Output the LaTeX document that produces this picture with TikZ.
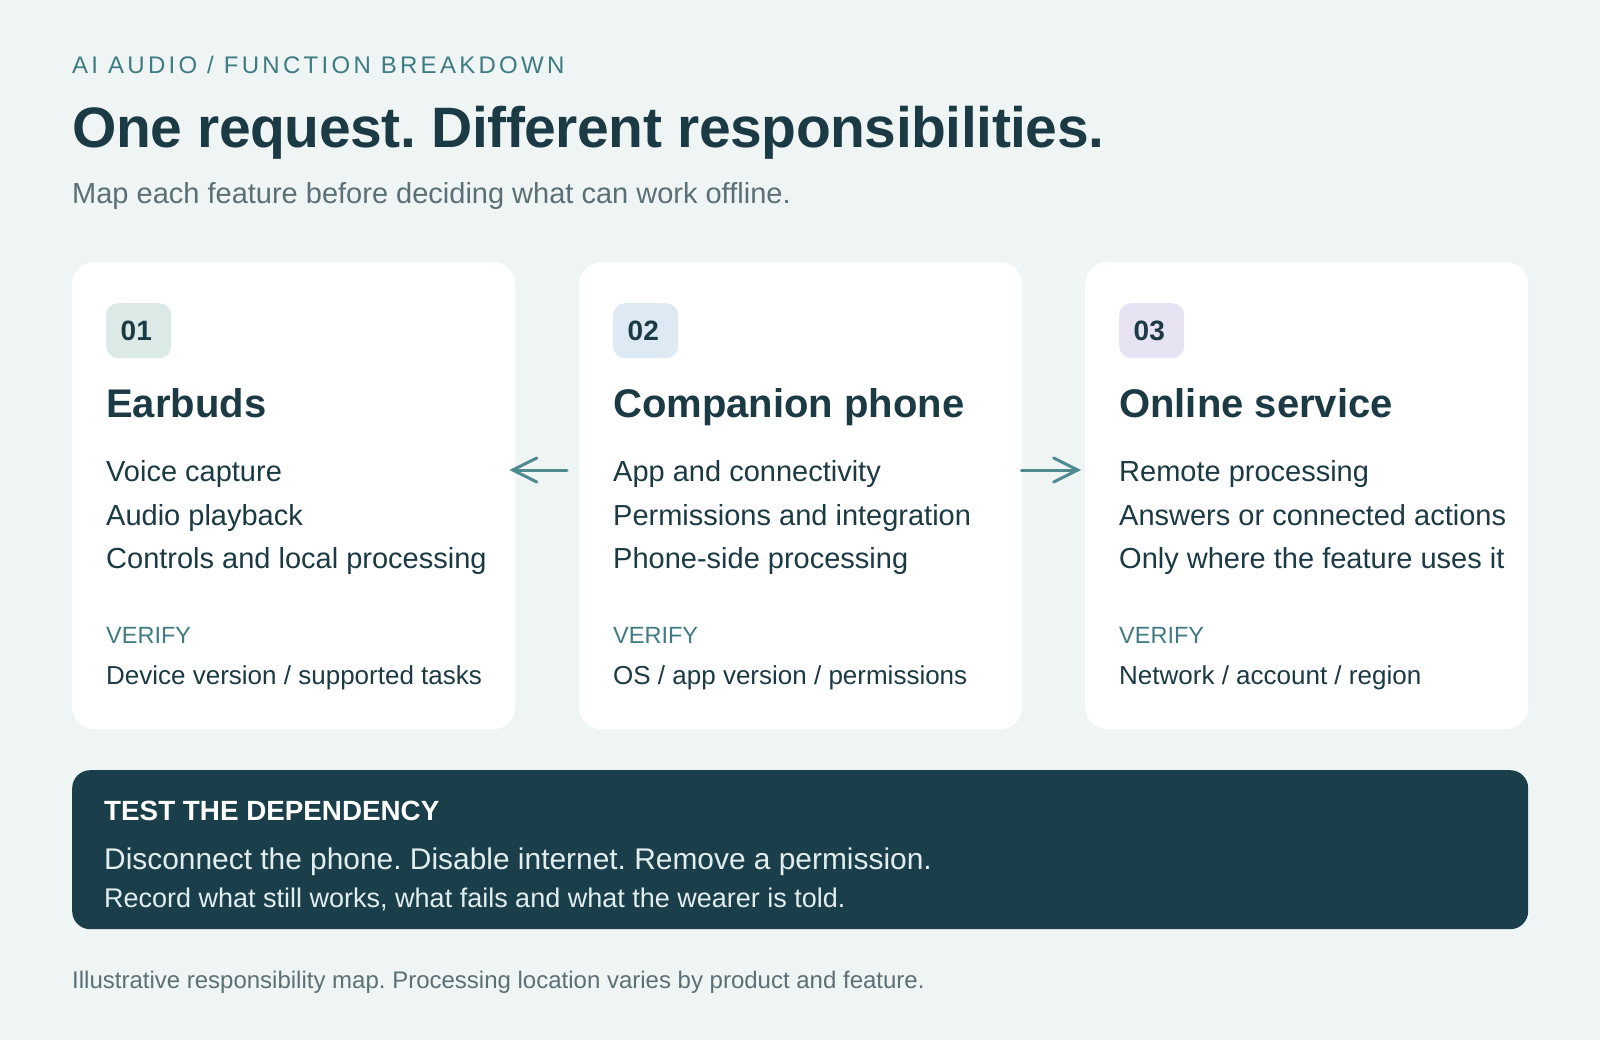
\documentclass[tikz,border=0pt]{standalone}
\usepackage{fontspec}
\setmainfont{Liberation Sans}
\usepackage{tikz}
\usetikzlibrary{calc,arrows.meta}
\usepackage{xcolor}
\definecolor{bg}{HTML}{EFF5F5}
\definecolor{ink}{HTML}{1B3A44}
\definecolor{teal}{HTML}{3E7B82}
\definecolor{grey}{HTML}{5B6F76}
\definecolor{arrowc}{HTML}{4F8B8E}
\definecolor{panelc}{HTML}{1A3F4A}
\definecolor{paneltxt}{HTML}{E2EEEE}
\definecolor{b-buds}{HTML}{DCEAE7}
\definecolor{b-phone}{HTML}{DDEAF4}
\definecolor{b-svc}{HTML}{E7E3F3}
\frenchspacing

\tikzset{
  txt/.style={anchor=base west, inner sep=0pt, text=ink},
  card/.style={fill=white, rounded corners=22pt, minimum width=443pt, minimum height=467pt, anchor=north west, inner sep=0pt},
  badge/.style={rounded corners=12pt, minimum width=65pt, minimum height=55pt, text width=36pt, align=left, anchor=north west, inner sep=0pt, text=ink, font=\fontsize{28}{30}\selectfont\bfseries},
  cardtitle/.style={txt, font=\fontsize{40}{46}\selectfont\bfseries},
  item/.style={txt, font=\fontsize{29}{34}\selectfont},
  verify/.style={txt, text=teal, font=\fontsize{23.5}{28}\selectfont},
  check/.style={txt, font=\fontsize{26}{30}\selectfont},
  flow/.style={draw=arrowc, line width=3pt, line cap=round, -{Straight Barb[length=24pt, width=24pt, line cap=round]}}
}

\begin{document}
\begin{tikzpicture}[x=1pt, y=-1pt]
  \fill[bg] (0, 0) rectangle (1600, 1040);
  \useasboundingbox (0, 0) rectangle (1600, 1040);

  \node[txt, text=teal, font=\fontsize{24}{28}\selectfont\addfontfeature{LetterSpace=13.7}] (eyebrow) at (72, 74) {AI AUDIO / FUNCTION BREAKDOWN};
  \node[txt, font=\fontsize{57}{64}\selectfont\bfseries\addfontfeature{LetterSpace=-0.8}] (title) at (72, 148) {One request. Different responsibilities.};
  \node[txt, text=grey, font=\fontsize{29}{34}\selectfont] (subtitle) at (72, 204) {Map each feature before deciding what can work offline.};

  % cards
  \node[card] (buds) at (72, 262) {};
  \node[card] (phone) at (579, 262) {};
  \node[card] (svc) at (1085, 262) {};

  \node[badge, fill=b-buds] (buds-no) at ($(buds.north west)+(34, 41)$) {01};
  \node[cardtitle] (buds-title) at ($(buds.north west)+(34, 155)$) {Earbuds};
  \node[item] (buds-l1) at ($(buds.north west)+(34, 219)$) {Voice capture};
  \node[item] (buds-l2) at ($(buds.north west)+(34, 263)$) {Audio playback};
  \node[item] (buds-l3) at ($(buds.north west)+(34, 306)$) {Controls and local processing};
  \node[verify] (buds-v) at ($(buds.north west)+(34, 381)$) {VERIFY};
  \node[check] (buds-c) at ($(buds.north west)+(34, 422)$) {Device version / supported tasks};

  \node[badge, fill=b-phone] (phone-no) at ($(phone.north west)+(34, 41)$) {02};
  \node[cardtitle] (phone-title) at ($(phone.north west)+(34, 155)$) {Companion phone};
  \node[item] (phone-l1) at ($(phone.north west)+(34, 219)$) {App and connectivity};
  \node[item] (phone-l2) at ($(phone.north west)+(34, 263)$) {Permissions and integration};
  \node[item] (phone-l3) at ($(phone.north west)+(34, 306)$) {Phone-side processing};
  \node[verify] (phone-v) at ($(phone.north west)+(34, 381)$) {VERIFY};
  \node[check] (phone-c) at ($(phone.north west)+(34, 422)$) {OS / app version / permissions};

  \node[badge, fill=b-svc] (svc-no) at ($(svc.north west)+(34, 41)$) {03};
  \node[cardtitle] (svc-title) at ($(svc.north west)+(34, 155)$) {Online service};
  \node[item] (svc-l1) at ($(svc.north west)+(34, 219)$) {Remote processing};
  \node[item] (svc-l2) at ($(svc.north west)+(34, 263)$) {Answers or connected actions};
  \node[item] (svc-l3) at ($(svc.north west)+(34, 306)$) {Only where the feature uses it};
  \node[verify] (svc-v) at ($(svc.north west)+(34, 381)$) {VERIFY};
  \node[check] (svc-c) at ($(svc.north west)+(34, 422)$) {Network / account / region};

  % arrows out of the phone
  \coordinate (arrowrow) at (0, 470);
  \draw[flow] ($(phone.west |- arrowrow)+(-12, 0)$) -- ($(buds.east |- arrowrow)+(-6, 0)$);
  \draw[flow] ($(phone.east |- arrowrow)+(-1, 0)$) -- ($(svc.west |- arrowrow)+(-4, 0)$);

  % dependency test
  \node[card, fill=panelc, rounded corners=18pt, minimum width=1456pt, minimum height=159pt] (test) at (72, 770) {};
  \node[txt, text=white, font=\fontsize{27.8}{32}\selectfont\bfseries] (test-head) at ($(test.north west)+(32, 50)$) {TEST THE DEPENDENCY};
  \node[txt, text=paneltxt, font=\fontsize{29.9}{34}\selectfont] (test-l1) at ($(test.north west)+(32, 99)$) {Disconnect the phone. Disable internet. Remove a permission.};
  \node[txt, text=paneltxt, font=\fontsize{27}{31}\selectfont] (test-l2) at ($(test.north west)+(32, 137)$) {Record what still works, what fails and what the wearer is told.};

  \node[txt, text=grey, font=\fontsize{24}{28}\selectfont] (footer) at (72, 988) {Illustrative responsibility map. Processing location varies by product and feature.};
\end{tikzpicture}
\end{document}
